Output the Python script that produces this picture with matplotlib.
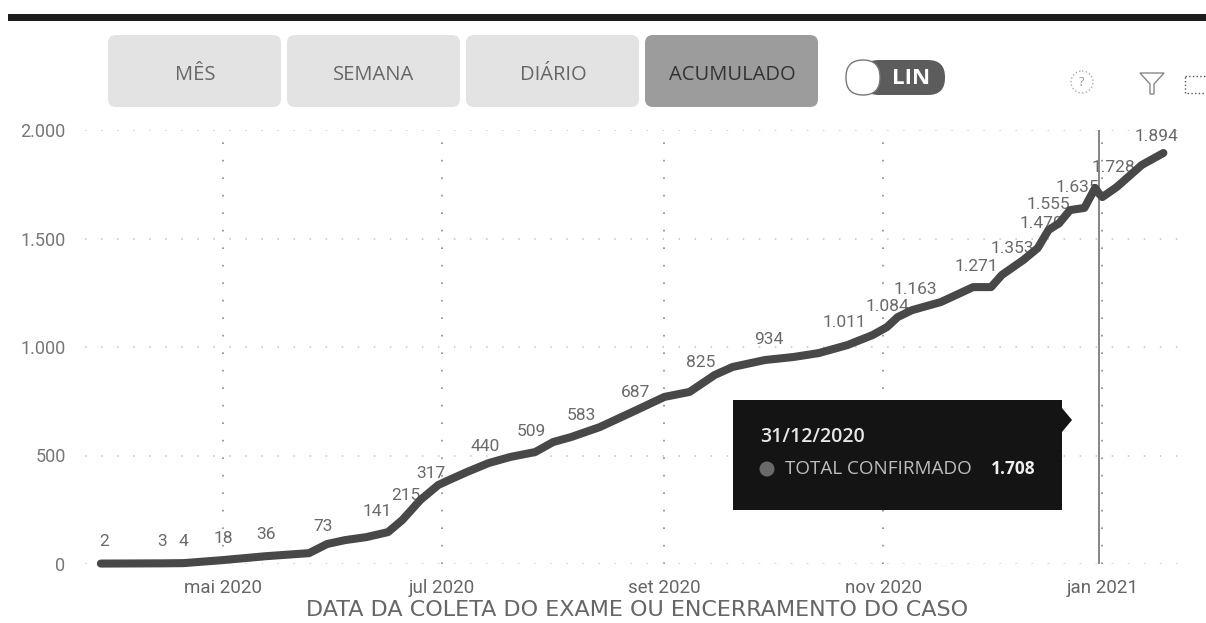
import pandas as pd
import matplotlib.pyplot as plt
import matplotlib.dates as mdates
from matplotlib.patches import FancyBboxPatch, Rectangle, Polygon, Circle

# Curve
curve_dates = ['2020-03-28', '2020-04-14', '2020-04-20', '2020-05-01', '2020-05-13', '2020-05-25',
               '2020-05-30', '2020-06-04', '2020-06-10', '2020-06-16', '2020-06-20', '2020-06-25',
               '2020-06-30', '2020-07-03', '2020-07-08', '2020-07-14', '2020-07-20', '2020-07-27',
               '2020-08-01', '2020-08-06', '2020-08-14', '2020-08-23', '2020-09-01', '2020-09-08',
               '2020-09-15', '2020-09-20', '2020-09-29', '2020-10-07', '2020-10-14', '2020-10-22',
               '2020-10-29', '2020-11-02', '2020-11-05', '2020-11-09', '2020-11-17', '2020-11-26',
               '2020-12-01', '2020-12-04', '2020-12-10', '2020-12-14', '2020-12-17', '2020-12-20',
               '2020-12-23', '2020-12-27', '2020-12-30', '2020-12-31', '2021-01-01', '2021-01-05',
               '2021-01-12', '2021-01-18']
curve_values = [2, 3, 4, 18, 36, 50, 92, 110, 124, 147, 203, 295, 364, 387, 424, 465, 493, 516, 562,
                585, 631, 700, 770, 793, 871, 908, 940, 954, 972, 1009, 1055, 1092, 1138, 1170, 1207,
                1276, 1276, 1332, 1401, 1456, 1539, 1571, 1631, 1641, 1733, 1708, 1691, 1737, 1839, 1894]

# Data labels (the line hides the last digit of some of them)
label_dates = ['2020-03-29', '2020-04-14', '2020-04-20', '2020-05-01', '2020-05-13', '2020-05-29',
               '2020-06-13', '2020-06-21', '2020-06-28', '2020-07-13', '2020-07-26', '2020-08-09',
               '2020-08-24', '2020-09-11', '2020-09-30', '2020-10-21', '2020-11-02', '2020-11-10',
               '2020-11-27', '2020-12-07', '2020-12-15', '2020-12-17', '2020-12-25', '2021-01-04',
               '2021-01-16']
label_values = [2, 3, 4, 18, 36, 73, 141, 215, 317, 440, 509, 583, 687, 825, 934, 1011, 1084, 1163,
                1271, 1353, 1470, 1555, 1635, 1728, 1870]
label_texts = ['2', '3', '4', '18', '36', '73', '141', '215', '317', '440', '509', '583', '687', '825',
               '934', '1.011', '1.084', '1.163', '1.271', '1.353', '1.470', '1.555', '1.635', '1.728', '1.894']

y_ticks = [0, 500, 1000, 1500, 2000]
y_tick_labels = ['0', '500', '1.000', '1.500', '2.000']
x_ticks = ['2020-05-01', '2020-07-01', '2020-09-01', '2020-11-01', '2021-01-01']
x_tick_labels = ['mai 2020', 'jul 2020', 'set 2020', 'nov 2020', 'jan 2021']
buttons = ['MÊS', 'SEMANA', 'DIÁRIO', 'ACUMULADO']
cursor_date = '2020-12-31'

W, H = 1206, 623
fig = plt.figure(figsize=(W / 100, H / 100), dpi=100)

ax = fig.add_axes([85 / W, 1 - 564 / H, (1190 - 85) / W, (564 - 130) / H])
ax.plot(pd.to_datetime(curve_dates), curve_values, color='#484848', lw=5.8,
        solid_capstyle='round', solid_joinstyle='round', zorder=3, clip_on=False)
ax.set_xlim(pd.Timestamp('2020-03-23 14:00'), pd.Timestamp('2021-01-25 10:00'))
ax.set_ylim(0, 2000)
for s in ax.spines.values():
    s.set_visible(False)

ax.set_yticks(y_ticks)
ax.set_yticklabels(y_tick_labels, family='Roboto', fontsize=13, color='#777777')
ax.set_xticks(mdates.date2num(pd.to_datetime(x_ticks)))
ax.set_xticklabels(x_tick_labels, family='Roboto', fontsize=13.5, color='#666666')
ax.tick_params(axis='y', length=0, pad=14)
ax.tick_params(axis='x', length=0, pad=11)
ax.xaxis.grid(True, color='#8a8a8a', lw=1.2, linestyle=(0, (1, 9.5)))
ax.yaxis.grid(True, color='#c4c4c4', lw=1.1, linestyle=(0, (1, 9.5)))
ax.set_axisbelow(True)

ax.axvline(pd.Timestamp(cursor_date), color='#666666', lw=1.1, zorder=2)

for d, v, t in zip(label_dates, label_values, label_texts):
    ax.annotate(t, (pd.Timestamp(d), v), xytext=(0, 22), textcoords='offset pixels', ha='center',
                va='center', family='Roboto', fontsize=12.5, color='#6a6a6a', zorder=2.5)

ax.set_xlabel('DATA DA COLETA DO EXAME OU ENCERRAMENTO DO CASO', family='DejaVu Sans', fontsize=16,
              color='#666666', labelpad=2)

# Overlay in pixel coordinates for the report controls
ui = fig.add_axes([0, 0, 1, 1], zorder=5)
ui.set_xlim(0, W)
ui.set_ylim(H, 0)
ui.axis('off')

ui.add_patch(Rectangle((8, 14), W - 8, 7, color='#1c1c1c', lw=0))

button_left = [108, 287, 466, 645]
for i, name in enumerate(buttons):
    active = name == 'ACUMULADO'
    ui.add_patch(FancyBboxPatch((button_left[i] + 6, 41), 161, 60, boxstyle='round,pad=6,rounding_size=8',
                                fc='#9c9c9c' if active else '#e3e3e3', ec='none'))
    ui.text(button_left[i] + 87, 75, name, family='Open Sans', fontsize=14.5, ha='center', va='center',
            color='#333333' if active else '#666666')

# LIN toggle
ui.add_patch(FancyBboxPatch((862, 60), 83, 35, boxstyle='round,pad=0,rounding_size=17', fc='#5c5c5c', ec='none'))
ui.add_patch(FancyBboxPatch((846, 60), 34, 35, boxstyle='round,pad=0,rounding_size=17', fc='white', ec='#777777', lw=1))
ui.text(911, 78, 'LIN', family='Open Sans', fontsize=16, weight='bold', ha='center', va='center', color='white')

# Help, filter and focus icons
ui.add_patch(Circle((1082, 82), 11, fc='none', ec='#aaaaaa', lw=1, ls=':'))
ui.text(1082, 82, '?', family='Open Sans', fontsize=9, ha='center', va='center', color='#999999')
ui.add_patch(Polygon([(1140, 73), (1164, 73), (1154, 84), (1154, 94), (1150, 94), (1150, 84)],
                     fc='none', ec='#888888', lw=1))
ui.add_patch(Rectangle((1185, 76), 25, 17, fc='none', ec='#555555', lw=1, ls=':', clip_on=True))

# Tooltip
ui.add_patch(Rectangle((733, 400), 329, 110, fc='#141414', ec='none'))
ui.add_patch(Polygon([(1062, 408), (1072, 420), (1062, 432)], fc='#141414', ec='none'))
ui.text(760, 437, '31/12/2020', family='Open Sans', fontsize=14, weight='semibold', ha='left', va='center', color='#e6e6e6')
ui.add_patch(Circle((767, 469), 7.5, fc='#6a6a6a', ec='none'))
ui.text(785, 469, 'TOTAL CONFIRMADO', family='Open Sans', fontsize=13.6, ha='left', va='center', color='#bdbdbd')
ui.text(1036, 469, '1.708', family='Open Sans', fontsize=12.5, weight='bold', ha='right', va='center', color='#efefef')

plt.savefig('out.png', dpi=100)
